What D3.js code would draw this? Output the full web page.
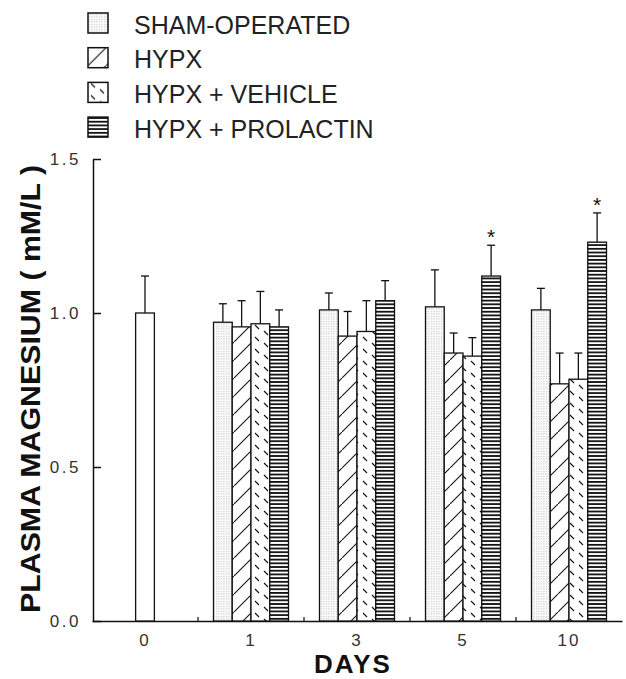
<!DOCTYPE html>
<html>
<head>
<meta charset="utf-8">
<script src="https://cdn.jsdelivr.net/npm/d3@7"></script>
<style>
  body { margin: 0; background: #fff; }
  text { font-family: "Liberation Sans", Arial, sans-serif; }
</style>
</head>
<body>
<div id="chart"></div>
<script>
//Values (means and upper error bar lengths, mM/L)
const days = ["0", "1", "3", "5", "10"];
const treatedDays = ["1", "3", "5", "10"];
const groups = ["SHAM-OPERATED", "HYPX", "HYPX + VEHICLE", "HYPX + PROLACTIN"];
const controlMean = [1.00];
const controlError = [0.12];
const shamMeans = [0.97, 1.01, 1.02, 1.01];
const shamErrors = [0.06, 0.055, 0.12, 0.07];
const hypxMeans = [0.955, 0.925, 0.87, 0.77];
const hypxErrors = [0.085, 0.08, 0.065, 0.10];
const vehicleMeans = [0.965, 0.94, 0.86, 0.785];
const vehicleErrors = [0.105, 0.10, 0.06, 0.085];
const prolactinMeans = [0.955, 1.04, 1.12, 1.23];
const prolactinErrors = [0.055, 0.065, 0.10, 0.095];
const significant = [false, false, true, true];
const yTicks = [0, 0.5, 1.0, 1.5];

const width = 626, height = 679;

const svg = d3.select("#chart")
    .append("svg")
    .attr("width", width)
    .attr("height", height);

//Fill patterns that mimic the printed hatching
const defs = svg.append("defs");

const dots = defs.append("pattern")
    .attr("id", "pat-sham")
    .attr("patternUnits", "userSpaceOnUse")
    .attr("width", 2.5).attr("height", 2.5);
dots.append("rect").attr("width", 2.5).attr("height", 2.5).attr("fill", "#fff");
dots.append("rect").attr("x", 1).attr("y", 1).attr("width", 1).attr("height", 1).attr("fill", "#a8a8a8");

const diag = defs.append("pattern")
    .attr("id", "pat-hypx")
    .attr("patternUnits", "userSpaceOnUse")
    .attr("width", 18).attr("height", 18);
diag.append("rect").attr("width", 18).attr("height", 18).attr("fill", "#fff");
diag.append("path").attr("d", "M-2,20 L20,-2").attr("stroke", "#111").attr("stroke-width", 1.1);

const dash = defs.append("pattern")
    .attr("id", "pat-vehicle")
    .attr("patternUnits", "userSpaceOnUse")
    .attr("width", 18).attr("height", 12);
dash.append("rect").attr("width", 18).attr("height", 12).attr("fill", "#fff");
dash.append("path").attr("d", "M3,1 L7,5 M12,7 L16,11").attr("stroke", "#111").attr("stroke-width", 1.1);

const horiz = defs.append("pattern")
    .attr("id", "pat-prolactin")
    .attr("patternUnits", "userSpaceOnUse")
    .attr("width", 4).attr("height", 3.7);
horiz.append("rect").attr("width", 4).attr("height", 3.7).attr("fill", "#fff");
horiz.append("rect").attr("width", 4).attr("height", 1.8).attr("fill", "#111");

const fills = ["url(#pat-sham)", "url(#pat-hypx)", "url(#pat-vehicle)", "url(#pat-prolactin)"];

//Scales
const x = d3.scaleBand().domain(days).range([92, 622]);
const inner = d3.scaleBand().domain(groups).range([0, 75]);
const y = d3.scaleLinear().domain([0, 1.5]).range([621, 159]);

//Axes
svg.append("g")
    .attr("transform", "translate(93,0)")
    .call(d3.axisLeft(y).tickValues(yTicks).tickFormat(d3.format(".1f"))
        .tickSizeInner(-8).tickSizeOuter(0).tickPadding(12))
    .call(g => g.selectAll("path, line").attr("stroke", "#111").attr("stroke-width", 1.5))
    .call(g => g.selectAll("text").attr("font-size", 17).attr("letter-spacing", 2.5)
        .attr("fill", "#333").attr("font-family", "Liberation Sans, Arial, sans-serif"));

svg.append("g")
    .attr("transform", `translate(0,${y(0)})`)
    .call(d3.axisBottom(x).tickSize(0).tickSizeOuter(0).tickPadding(13))
    .call(g => g.select(".domain").attr("stroke", "#111").attr("stroke-width", 1.5))
    .call(g => g.selectAll("text").attr("font-size", 17).attr("letter-spacing", 2)
        .attr("fill", "#333").attr("font-family", "Liberation Sans, Arial, sans-serif"));

//Small marks on the baseline between day groups
svg.append("g")
    .selectAll("line")
    .data(days.slice(1))
    .join("line")
    .attr("x1", d => x(d))
    .attr("x2", d => x(d))
    .attr("y1", y(0))
    .attr("y2", y(0) - 4)
    .attr("stroke", "#111")
    .attr("stroke-width", 1.2);

//Build the bar rows from the arrays
const meansByGroup = [shamMeans, hypxMeans, vehicleMeans, prolactinMeans];
const errorsByGroup = [shamErrors, hypxErrors, vehicleErrors, prolactinErrors];
const bars = [];
treatedDays.forEach((day, i) => {
    groups.forEach((g, j) => {
        bars.push({day: day, group: g, fill: fills[j], mean: meansByGroup[j][i],
            err: errorsByGroup[j][i], star: j === 3 && significant[i]});
    });
});

const bw = inner.bandwidth();
bars.forEach(d => {
    d.x0 = x(d.day) + x.bandwidth() / 2 - 37.5 + inner(d.group);
    d.cx = d.x0 + bw / 2;
});

//Day 0 control bar (open)
const control = [{day: "0", mean: controlMean[0], err: controlError[0]}];
control.forEach(d => {
    d.x0 = x(d.day) + x.bandwidth() / 2 - bw / 2;
    d.cx = d.x0 + bw / 2;
    d.fill = "#fff";
});

const allBars = control.concat(bars);

//Error bars first so the bar outline sits on top
const err = svg.append("g")
    .attr("stroke", "#111")
    .attr("stroke-width", 1.3);

err.selectAll(".stem")
    .data(allBars)
    .join("line")
    .attr("class", "stem")
    .attr("x1", d => d.cx).attr("x2", d => d.cx)
    .attr("y1", d => y(d.mean)).attr("y2", d => y(d.mean + d.err));

err.selectAll(".cap")
    .data(allBars)
    .join("line")
    .attr("class", "cap")
    .attr("x1", d => d.cx - 4).attr("x2", d => d.cx + 4)
    .attr("y1", d => y(d.mean + d.err)).attr("y2", d => y(d.mean + d.err));

svg.append("g")
    .selectAll("rect")
    .data(allBars)
    .join("rect")
    .attr("x", d => d.x0)
    .attr("y", d => y(d.mean))
    .attr("width", bw)
    .attr("height", d => y(0) - y(d.mean))
    .attr("fill", d => d.fill)
    .attr("stroke", "#111")
    .attr("stroke-width", 1.3);

//Asterisks over significant bars
svg.append("g")
    .selectAll("text")
    .data(bars.filter(d => d.star))
    .join("text")
    .attr("x", d => d.cx)
    .attr("y", d => y(d.mean + d.err) - 1)
    .attr("text-anchor", "middle")
    .attr("font-size", 21)
    .attr("fill", "#111")
    .text("*");

//Legend
const legend = svg.append("g")
    .selectAll("g")
    .data(groups)
    .join("g")
    .attr("transform", (d, i) => `translate(88,${13 + i * 34.7})`);

legend.append("rect")
    .attr("width", 20)
    .attr("height", 20)
    .attr("fill", (d, i) => fills[i])
    .attr("stroke", "#111")
    .attr("stroke-width", 1.5);

legend.append("text")
    .attr("x", 46)
    .attr("y", 20.5)
    .attr("font-size", 25)
    .attr("fill", "#222")
    .text(d => d);

//Axis titles
svg.append("text")
    .attr("transform", "translate(40,389) rotate(-90)")
    .attr("text-anchor", "middle")
    .attr("font-size", 28)
    .attr("font-weight", "bold")
    .attr("textLength", 448)
    .attr("lengthAdjust", "spacingAndGlyphs")
    .attr("fill", "#111")
    .text("PLASMA MAGNESIUM ( mM/L )");

svg.append("text")
    .attr("x", 353)
    .attr("y", 673)
    .attr("text-anchor", "middle")
    .attr("font-size", 26)
    .attr("font-weight", "bold")
    .attr("letter-spacing", 2)
    .attr("fill", "#111")
    .text("DAYS");
</script>
</body>
</html>
